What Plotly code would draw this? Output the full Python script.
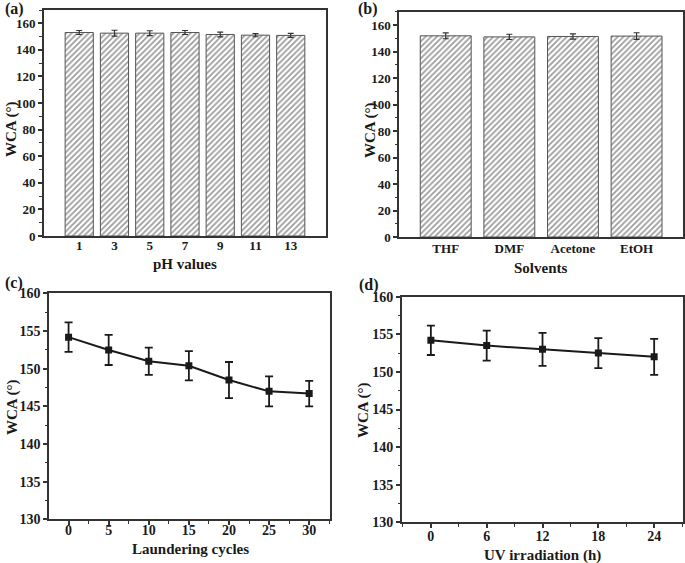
import plotly.graph_objects as go

# (a) pH stability
ph_labels = ["1", "3", "5", "7", "9", "11", "13"]
ph_wca = [153.1, 152.6, 152.6, 153.1, 151.6, 151.1, 150.9]
ph_err = [1.5, 2.2, 1.8, 1.5, 1.8, 1.2, 1.5]

# (b) solvent stability
solvents = ["THF", "DMF", "Acetone", "EtOH"]
sol_wca = [152.0, 151.2, 151.5, 151.8]
sol_err = [2.2, 2.0, 2.0, 2.5]

# (c) laundering
cycles = [0, 5, 10, 15, 20, 25, 30]
laund_wca = [154.2, 152.5, 151.0, 150.4, 148.5, 147.0, 146.7]
laund_err = [1.95, 2.0, 1.8, 1.95, 2.4, 2.0, 1.7]

# (d) UV irradiation
uv_h = [0, 6, 12, 18, 24]
uv_wca = [154.2, 153.5, 153.0, 152.5, 152.0]
uv_err = [1.95, 2.0, 2.2, 2.0, 2.4]

FONT = "Liberation Serif"
AX = "#333333"
INK = "#1a1a1a"
W, H = 685, 563

fig = go.Figure()

bar_style = dict(
    marker=dict(color="white",
                line=dict(color="#555555", width=1),
                pattern=dict(shape="/", fgcolor="#3a3a3a", bgcolor="white",
                             size=4, solidity=0.45)),
    width=0.8,
)
err_bar = dict(type="data", thickness=1.2, width=3, color="#333333")

fig.add_trace(go.Bar(x=ph_labels, y=ph_wca,
                     error_y=dict(array=ph_err, **err_bar),
                     xaxis="x", yaxis="y", showlegend=False, **bar_style))
fig.add_trace(go.Bar(x=solvents, y=sol_wca,
                     error_y=dict(array=sol_err, **err_bar),
                     xaxis="x2", yaxis="y2", showlegend=False, **bar_style))

line_err = dict(type="data", thickness=1.8, width=4, color=INK)
fig.add_trace(go.Scatter(x=cycles, y=laund_wca, mode="lines+markers",
                         line=dict(color=INK, width=2),
                         marker=dict(symbol="square", size=7, color=INK),
                         error_y=dict(array=laund_err, **line_err),
                         xaxis="x3", yaxis="y3", showlegend=False))
fig.add_trace(go.Scatter(x=uv_h, y=uv_wca, mode="lines+markers",
                         line=dict(color=INK, width=2),
                         marker=dict(symbol="square", size=7, color=INK),
                         error_y=dict(array=uv_err, **line_err),
                         xaxis="x4", yaxis="y4", showlegend=False))

tick_top = dict(family=FONT, size=13, color=INK, weight="bold")
tick_bot = dict(family=FONT, size=14, color=INK, weight="bold")
titlefont = dict(family=FONT, size=15, color=INK, weight="bold")


def yax(domain, rng, dtick, minor_dtick, anchor, tf):
    return dict(domain=domain, range=rng, dtick=dtick, tick0=0,
                automargin=False,
                showgrid=False, zeroline=False, showline=True,
                linecolor=AX, linewidth=2, mirror=True,
                ticks="outside", ticklen=4, tickwidth=1.5, tickcolor=AX,
                minor=dict(dtick=minor_dtick, ticks="outside", ticklen=2.5,
                           tickwidth=1.2, tickcolor=AX, showgrid=False),
                tickfont=tf, anchor=anchor)


def xax(domain, rng, anchor, tf, **kw):
    d = dict(domain=domain, range=rng, showgrid=False, zeroline=False,
             automargin=False,
             showline=True, linecolor=AX, linewidth=2, mirror=True,
             tickfont=tf, anchor=anchor)
    d.update(kw)
    return d


fig.update_layout(
    width=W, height=H,
    margin=dict(l=0, r=0, t=0, b=0),
    paper_bgcolor="white", plot_bgcolor="white",
    xaxis=xax([0.0642, 0.4759], [-1, 7], "y", tick_top, ticks="",
              type="category", ticklabelstandoff=-4),
    yaxis=yax([0.5808, 0.9822], [0, 170], 20, 10, "x", tick_top),
    xaxis2=xax([0.5829, 0.9971], [-0.73, 3.73], "y2", tick_top, ticks="",
               type="category", ticklabelstandoff=-2),
    yaxis2=yax([0.5790, 0.9787], [0, 170], 20, 10, "x2", tick_top),
    xaxis3=xax([0.0720, 0.4818], [-2.4, 32.6], "y3", tick_bot,
               dtick=5, tick0=0, ticks="outside", ticklen=4, tickwidth=1.5,
               tickcolor=AX, ticklabelstandoff=-7,
               minor=dict(dtick=2.5, tick0=0, ticks="outside", ticklen=2.5,
                          tickwidth=1.2, tickcolor=AX, showgrid=False)),
    yaxis3=yax([0.0776, 0.4787], [130, 160], 5, 2.5, "x3", tick_bot),
    xaxis4=xax([0.5869, 0.9971], [-3.1, 27.1], "y4", tick_bot,
               dtick=6, tick0=0, ticks="outside", ticklen=4, tickwidth=1.5,
               tickcolor=AX, ticklabelstandoff=-4,
               minor=dict(dtick=3, tick0=0, ticks="outside", ticklen=2.5,
                          tickwidth=1.2, tickcolor=AX, showgrid=False)),
    yaxis4=yax([0.0723, 0.4730], [130, 160], 5, 2.5, "x4", tick_bot),
)


def ann(text, xpx, ypx, font, angle=0, xanchor="center"):
    fig.add_annotation(text=text, x=xpx / W, y=1 - ypx / H,
                       xref="paper", yref="paper", xanchor=xanchor,
                       yanchor="middle", showarrow=False, textangle=angle,
                       font=font)


panel_font = dict(family=FONT, size=16, color=INK, weight="bold")
ann("(a)", 3, 9, panel_font, xanchor="left")
ann("(b)", 356, 9, panel_font, xanchor="left")
ann("(c)", 3, 283, panel_font, xanchor="left")
ann("(d)", 357, 285, panel_font, xanchor="left")

# axis titles
ann("pH values", 185, 264, titlefont)
ann("Solvents", 541, 268, titlefont)
ann("Laundering cycles", 190, 549, titlefont)
ann("UV irradiation (h)", 542, 555, titlefont)
ann("WCA (°)", 12, 129, titlefont, angle=-90)
ann("WCA (°)", 370, 130, titlefont, angle=-90)
ann("WCA (°)", 12, 407, titlefont, angle=-90)
ann("WCA (°)", 363, 410, titlefont, angle=-90)

fig.write_html("out.html",
               config={"displayModeBar": False},
               post_script="document.body.style.margin='0';"
                           "document.body.style.padding='0';")
